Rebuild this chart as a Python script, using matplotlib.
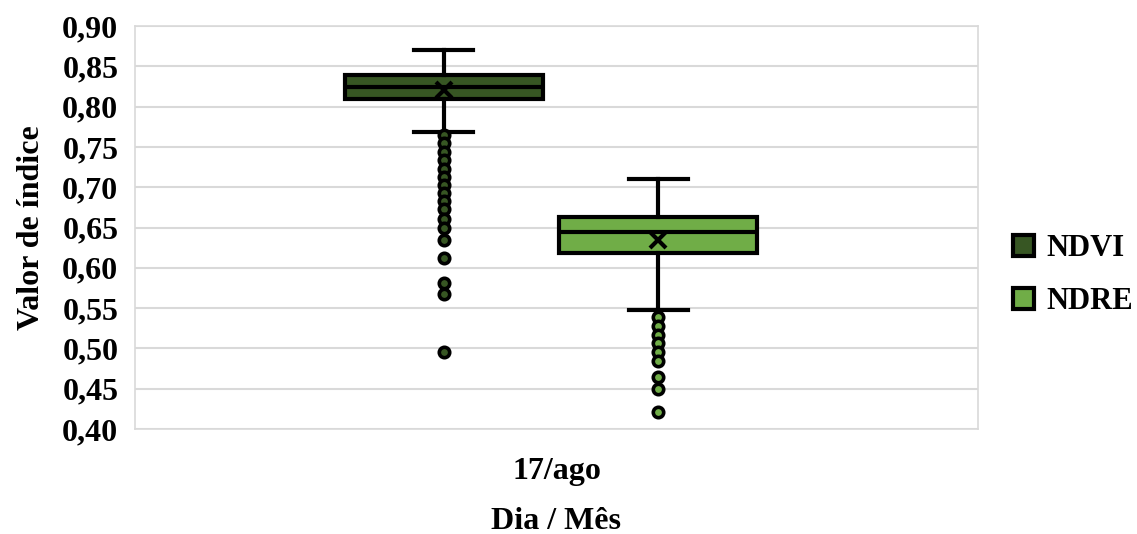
import matplotlib.pyplot as plt
from matplotlib.patches import Patch

# valores
series = ["NDVI", "NDRE"]
colors = ["#375623", "#70AD47"]
category = "17/ago"
q1 = [0.809, 0.618]
med = [0.824, 0.645]
q3 = [0.839, 0.663]
mean = [0.821, 0.634]
whislo = [0.768, 0.548]
whishi = [0.870, 0.710]
ndvi_out = [0.765, 0.755, 0.744, 0.734, 0.723, 0.713, 0.703, 0.693, 0.683,
            0.673, 0.661, 0.650, 0.635, 0.612, 0.581, 0.567, 0.496]
ndre_out = [0.539, 0.528, 0.517, 0.507, 0.496, 0.485, 0.465, 0.450, 0.421]
fliers = [ndvi_out, ndre_out]
yticks = [0.40, 0.45, 0.50, 0.55, 0.60, 0.65, 0.70, 0.75, 0.80, 0.85, 0.90]

plt.rcParams["font.family"] = ["Liberation Serif", "DejaVu Serif"]
plt.rcParams["font.weight"] = "bold"
fs = 23

fig = plt.figure(figsize=(11.37, 5.34), dpi=100)
ax = fig.add_axes([0.1187, 0.1966, 0.7414, 0.7547])

stats = []
for i in range(len(series)):
    stats.append({"label": series[i], "q1": q1[i], "med": med[i], "q3": q3[i],
                  "mean": mean[i], "whislo": whislo[i], "whishi": whishi[i],
                  "fliers": fliers[i]})

positions = [0.3665, 0.6205]
for i in range(len(series)):
    ax.bxp([stats[i]], positions=[positions[i]], widths=0.234, patch_artist=True,
           showmeans=True, showfliers=True,
           boxprops=dict(facecolor=colors[i], edgecolor="black", linewidth=3),
           medianprops=dict(color="black", linewidth=3),
           whiskerprops=dict(color="black", linewidth=3),
           capprops=dict(color="black", linewidth=3),
           capwidths=0.07,
           meanprops=dict(marker="x", markeredgecolor="black", markersize=11,
                          markeredgewidth=3),
           flierprops=dict(marker="o", markerfacecolor=colors[i],
                           markeredgecolor="black", markersize=7.5,
                           markeredgewidth=2.6))

ax.set_xlim(0, 1)
ax.set_ylim(0.40, 0.90)
ax.set_xticks([0.5])
ax.set_xticklabels([category])
ax.set_yticks(yticks)
ax.set_yticklabels([f"{t:.2f}".replace(".", ",") for t in yticks])
ax.tick_params(length=0, labelsize=fs)
ax.tick_params(axis="y", pad=12)
ax.tick_params(axis="x", pad=20)
ax.yaxis.grid(True, color="#D9D9D9", linewidth=1.5)
ax.set_axisbelow(True)
for s in ax.spines.values():
    s.set_color("#D9D9D9")
    s.set_linewidth(1.2)

ax.set_ylabel("Valor de índice", fontsize=fs, fontweight="bold", labelpad=12)
ax.set_xlabel("Dia / Mês", fontsize=fs, fontweight="bold", labelpad=15)

handles = [Patch(facecolor=colors[i], edgecolor="black", linewidth=3, label=series[i])
           for i in range(len(series))]
fig.legend(handles=handles, loc="center left", bbox_to_anchor=(0.891, 0.485),
           frameon=False, fontsize=22, handlelength=0.68, handleheight=0.68,
           handletextpad=0.4, labelspacing=0.78, borderpad=0, borderaxespad=0)

plt.savefig("out.png", dpi=100)
